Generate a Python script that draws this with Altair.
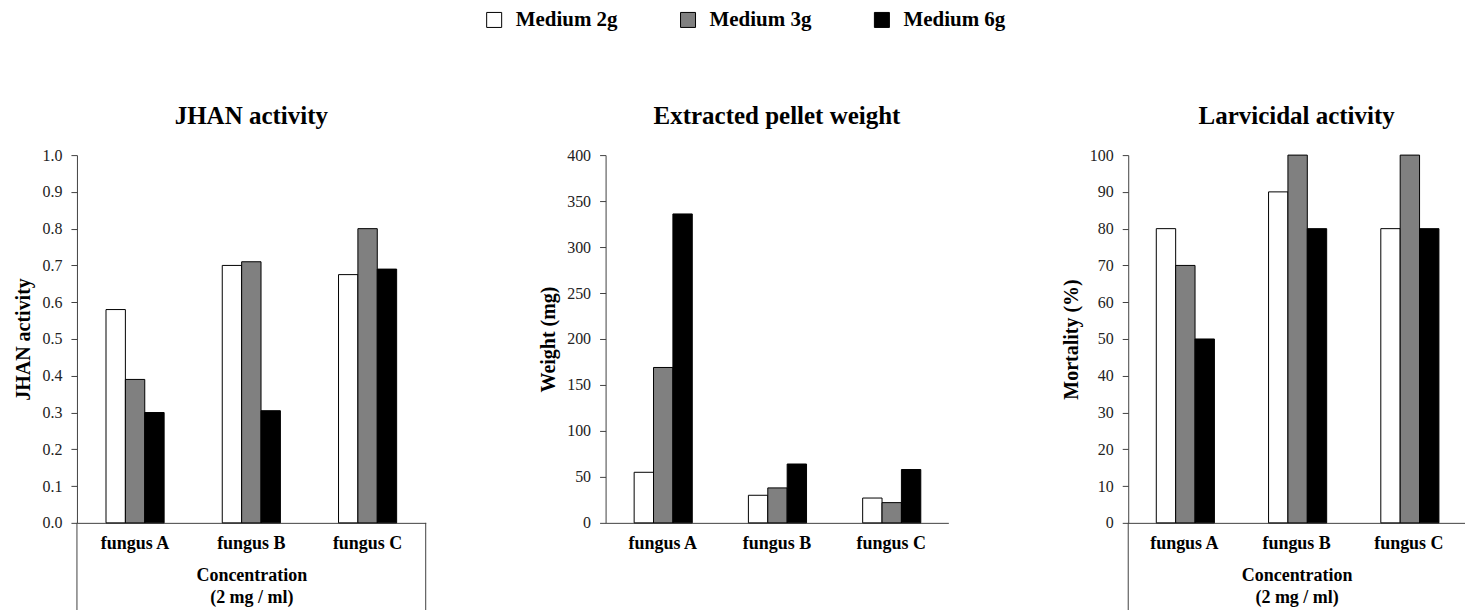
import altair as alt
import pandas as pd

# Categories and series
fungi = ["fungus A", "fungus B", "fungus C"]
media = ["Medium 2g", "Medium 3g", "Medium 6g"]
media_colors = ["#ffffff", "#808080", "#000000"]

# JHAN activity per medium (fungus A, B, C)
jhan_2g = [0.58, 0.70, 0.675]
jhan_3g = [0.39, 0.71, 0.80]
jhan_6g = [0.30, 0.305, 0.69]

# Extracted pellet weight in mg
weight_2g = [55, 30, 27]
weight_3g = [169, 38, 22]
weight_6g = [336, 64, 58]

# Larvicidal mortality in %
mort_2g = [80, 90, 80]
mort_3g = [70, 100, 100]
mort_6g = [50, 80, 80]

# Axis tick values
jhan_ticks = [0.0, 0.1, 0.2, 0.3, 0.4, 0.5, 0.6, 0.7, 0.8, 0.9, 1.0]
weight_ticks = [0, 50, 100, 150, 200, 250, 300, 350, 400]
mort_ticks = [0, 10, 20, 30, 40, 50, 60, 70, 80, 90, 100]

SERIF = "Liberation Serif"
LINE = "#404040"
H = 368


def long_table(series):
    rows = []
    for medium, values in zip(media, series):
        for fungus, v in zip(fungi, values):
            rows.append({"fungus": fungus, "medium": medium, "value": v})
    return pd.DataFrame(rows)


legend = alt.Legend(
    title=None, orient="none", legendX=407, legendY=-146,
    direction="horizontal", symbolType="square", symbolSize=225,
    symbolStrokeColor="black", symbolStrokeWidth=1, symbolOpacity=1,
    labelFont=SERIF, labelFontSize=21, labelFontWeight="bold",
    labelColor="black", labelOffset=11, columnPadding=59,
)


def panel(df, title, y_title, ticks, fmt, width, x_title=None, side_lines=()):
    x_kwargs = dict(
        labelAngle=0, ticks=False, labelPadding=12, labelFont=SERIF,
        labelFontSize=18, labelFontWeight="bold", labelColor="black",
        domainColor=LINE,
    )
    if x_title is not None:
        x_kwargs.update(
            title=x_title, titleFont=SERIF, titleFontSize=18,
            titleFontWeight="bold", titleColor="black", titlePadding=14,
            titleLineHeight=22,
        )
    else:
        x_kwargs["title"] = None

    bars = alt.Chart(df).mark_bar(stroke="black", strokeWidth=1).encode(
        x=alt.X("fungus:N", sort=fungi,
                scale=alt.Scale(paddingInner=0.5, paddingOuter=0.25),
                axis=alt.Axis(**x_kwargs)),
        xOffset=alt.XOffset("medium:N", sort=media,
                            scale=alt.Scale(paddingInner=0, paddingOuter=0)),
        y=alt.Y("value:Q",
                scale=alt.Scale(domain=[ticks[0], ticks[-1]], nice=False),
                axis=alt.Axis(
                    title=y_title, values=ticks, format=fmt, grid=False,
                    domainColor=LINE, tickColor=LINE, tickSize=6,
                    labelPadding=9, labelFont=SERIF, labelFontSize=16,
                    labelColor="#222", titleFont=SERIF, titleFontSize=20,
                    titleFontWeight="bold", titleColor="black",
                    titlePadding=8,
                )),
        fill=alt.Fill("medium:N", sort=media,
                      scale=alt.Scale(domain=media, range=media_colors),
                      legend=legend),
    )
    layers = [bars]
    for xpos in side_lines:
        layers.append(
            alt.Chart(alt.Data(values=[{"edge": 1}])).mark_rule(
                color=LINE, strokeWidth=1
            ).encode(x=alt.value(xpos), y=alt.value(H), y2=alt.value(H + 95))
        )
    return alt.layer(*layers).properties(
        width=width, height=H,
        title=alt.TitleParams(title, font=SERIF, fontSize=25,
                              fontWeight="bold", color="black",
                              anchor="middle", offset=18),
    )


conc = ["Concentration", "(2 mg / ml)"]

p1 = panel(long_table([jhan_2g, jhan_3g, jhan_6g]), "JHAN activity",
           "JHAN activity", jhan_ticks, ".1f", 349, conc, side_lines=(0, 349))
p2 = panel(long_table([weight_2g, weight_3g, weight_6g]),
           "Extracted pellet weight", "Weight (mg)", weight_ticks, "d", 343)
p3 = panel(long_table([mort_2g, mort_3g, mort_6g]), "Larvicidal activity",
           "Mortality (%)", mort_ticks, "d", 337, conc, side_lines=(0,))

chart = alt.hconcat(
    p1, p2, p3, spacing=180, bounds="flush", background="white",
    padding={"left": 14, "top": 9, "right": 0, "bottom": 0},
).configure_view(stroke="transparent", strokeWidth=0)

chart.save("out.html", embed_options={"renderer": "svg", "actions": False})
